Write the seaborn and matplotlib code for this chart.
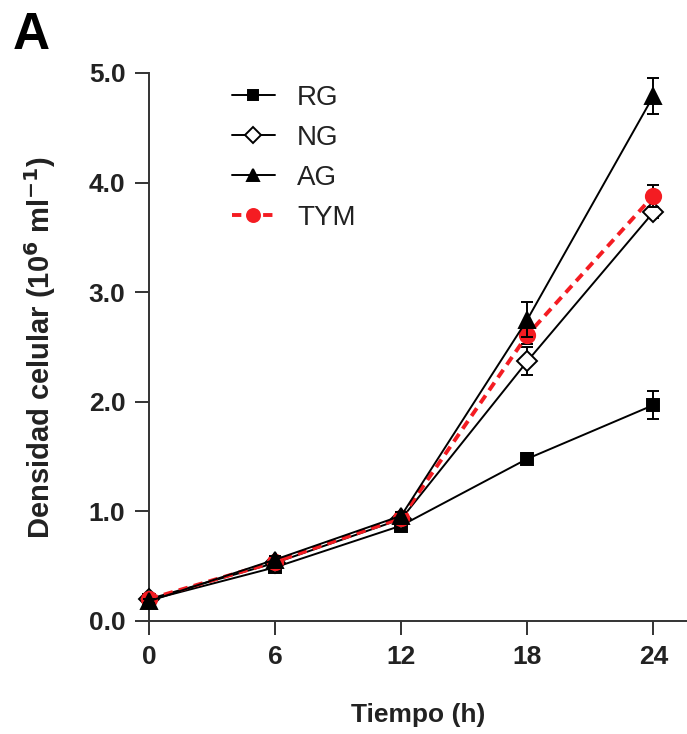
import numpy as np
import pandas as pd
import matplotlib
matplotlib.use("Agg")
import matplotlib.pyplot as plt
import seaborn as sns

# Growth curves: cell density (10^6 cells/ml) over time for four media
hours = [0, 6, 12, 18, 24]
series = ["RG", "NG", "AG", "TYM"]
rg_mean = [0.19, 0.49, 0.87, 1.48, 1.97]
rg_sd = [0.02, 0.03, 0.03, 0.05, 0.13]
ng_mean = [0.20, 0.53, 0.93, 2.37, 3.73]
ng_sd = [0.02, 0.03, 0.03, 0.13, 0.05]
ag_mean = [0.18, 0.56, 0.96, 2.75, 4.79]
ag_sd = [0.02, 0.03, 0.03, 0.16, 0.16]
tym_mean = [0.20, 0.54, 0.94, 2.61, 3.88]
tym_sd = [0.02, 0.03, 0.03, 0.08, 0.10]

x_ticks = [0, 6, 12, 18, 24]
y_ticks = [0.0, 1.0, 2.0, 3.0, 4.0, 5.0]

df = pd.DataFrame({
    "Tiempo": hours * 4,
    "Densidad": rg_mean + ng_mean + ag_mean + tym_mean,
    "SD": rg_sd + ng_sd + ag_sd + tym_sd,
    "Medio": [s for s in series for _ in hours],
})

sns.set_theme(style="ticks")
plt.rcParams["font.family"] = ["Liberation Sans", "DejaVu Sans"]

fig = plt.figure(figsize=(6.87, 7.34), dpi=100)
ax = fig.add_axes([149 / 687, 113 / 734, 538 / 687, 548 / 734])

styles = {
    "RG": dict(color="black", marker="s", ms=8, mfc="black", mec="black",
               ls="-", lw=1.4, z=3),
    "NG": dict(color="black", marker="D", ms=10, mfc="white", mec="black",
               ls="-", lw=1.4, z=4),
    "TYM": dict(color="#f41c22", marker="o", ms=11, mfc="#f41c22", mec="#f41c22",
                ls=(0, (2.4, 1.6)), lw=2.8, z=5),
    "AG": dict(color="black", marker="^", ms=11, mfc="black", mec="black",
               ls="-", lw=1.4, z=6),
}

handles = {}
for name in ["RG", "NG", "TYM", "AG"]:
    st = styles[name]
    sub = df[df["Medio"] == name]
    ax.errorbar(sub["Tiempo"], sub["Densidad"], yerr=sub["SD"], fmt="none",
                ecolor="black", elinewidth=1.4, capsize=4, capthick=1.4,
                zorder=st["z"] - 0.5, clip_on=False)
    sns.lineplot(data=sub, x="Tiempo", y="Densidad", ax=ax, color=st["color"],
                 marker=st["marker"], markersize=st["ms"],
                 markerfacecolor=st["mfc"], markeredgecolor=st["mec"],
                 markeredgewidth=1.4, linestyle=st["ls"], linewidth=st["lw"],
                 zorder=st["z"], clip_on=False, errorbar=None)
    handles[name] = ax.lines[-1]

leg = ax.legend([handles[s] for s in series], series, loc="upper left",
                bbox_to_anchor=(0.133, 0.998), frameon=False, fontsize=20,
                handlelength=1.55, handletextpad=0.8, labelspacing=0.5,
                borderaxespad=0.0, markerscale=0.85)
for t in leg.get_texts():
    t.set_color("#222222")

ax.set_xlim(0, 25.6)
ax.set_ylim(0, 5.0)
ax.set_xticks(x_ticks)
ax.set_yticks(y_ticks)
ax.set_yticklabels([f"{v:.1f}" for v in y_ticks])
for lab in ax.get_xticklabels() + ax.get_yticklabels():
    lab.set_fontweight("bold")
    lab.set_fontsize(19)
    lab.set_color("#222222")
ax.tick_params(direction="out", length=10, width=1.4, color="#333333", pad=7)

sns.despine(ax=ax)
for side in ["left", "bottom"]:
    ax.spines[side].set_linewidth(1.4)
    ax.spines[side].set_color("#333333")

ax.set_xlabel("Tiempo (h)", fontsize=19, fontweight="bold", labelpad=25,
              color="#222222")
ax.set_ylabel(r"Densidad celular (10$^{\mathbf{6}}$ ml$^{\mathbf{-1}}$)",
              fontsize=21, fontweight="bold", labelpad=22, color="#222222")

fig.text(13 / 687, 1 - 49 / 734, "A", fontsize=37, fontweight="bold",
         color="black", ha="left", va="baseline")

fig.savefig("out.png", dpi=100, facecolor="white")
